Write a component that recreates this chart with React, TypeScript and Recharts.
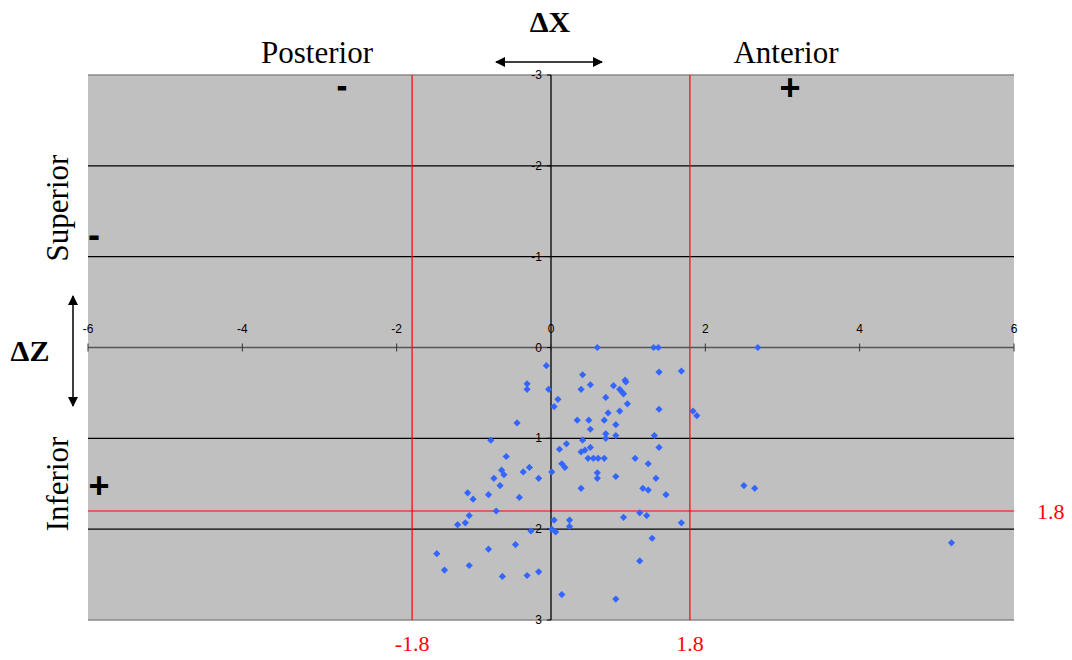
import {
  ScatterChart, Scatter, XAxis, YAxis, ReferenceLine, ReferenceArea, ReferenceDot,
} from 'recharts'

// displacement of each point (paired by index)
const X_VALUES = [
  0.6, 1.33, 1.39, 2.68, -0.06, 0.41, 1.4, 1.69, -0.31, -0.31,
  -0.03, 0.39, 0.51, 0.81, 0.96, 0.97, 0.89, 0.92, 0.94, 0.09,
  0.04, 0.71, 0.99, 1.4, 1.84, 1.89, 0.74, 0.89, -0.44, 0.34,
  0.49, 0.69, 0.51, 0.84, 0.71, 0.71, 0.84, 1.34, -0.78, 0.41,
  0.2, 0.11, 0.39, 0.44, 0.51, 1.4, -0.58, 0.48, 0.55, 0.61,
  0.69, 1.09, 1.26, 0.14, 0.18, -0.28, -0.64, -0.36, 0.01, 0.6,
  -0.61, 0.84, -0.74, -0.16, 0.6, 1.36, -0.66, 0.39, 1.19, 1.26,
  2.5, 2.64, -1.08, -0.81, 1.49, -0.41, -1.01, -0.71, 1.15, -1.06,
  1.24, 0.94, 0.04, 0.24, -1.11, 1.69, -1.21, 0.24, 0.01, -0.26,
  0.06, 1.31, 5.19, -0.46, -0.81, -1.48, 1.15, -1.06, -1.38, -0.16,
  -0.31, -0.63, 0.14, 0.84,
]
const Z_VALUES = [
  0, 0, 0, 0, 0.2, 0.3, 0.27, 0.26, 0.4, 0.46,
  0.46, 0.46, 0.41, 0.42, 0.36, 0.38, 0.46, 0.49, 0.51, 0.57,
  0.65, 0.55, 0.62, 0.68, 0.7, 0.75, 0.72, 0.7, 0.83, 0.8,
  0.8, 0.8, 0.9, 0.85, 0.95, 1.0, 0.97, 0.97, 1.02, 1.02,
  1.06, 1.12, 1.15, 1.13, 1.1, 1.1, 1.2, 1.22, 1.22, 1.22,
  1.22, 1.22, 1.28, 1.28, 1.32, 1.32, 1.35, 1.37, 1.37, 1.38,
  1.4, 1.42, 1.44, 1.44, 1.44, 1.44, 1.52, 1.55, 1.55, 1.57,
  1.52, 1.55, 1.6, 1.62, 1.62, 1.65, 1.67, 1.8, 1.82, 1.85,
  1.85, 1.87, 1.9, 1.9, 1.93, 1.93, 1.95, 1.97, 2.0, 2.02,
  2.03, 2.1, 2.15, 2.17, 2.22, 2.27, 2.35, 2.4, 2.45, 2.47,
  2.51, 2.52, 2.72, 2.77,
]
const X_TICKS = [-6, -4, -2, 0, 2, 4, 6]
const Z_TICKS = [-3, -2, -1, 0, 1, 2, 3]
const LIMIT = 1.8

const points = X_VALUES.map((x, i) => ({ x, y: Z_VALUES[i] }))

const SERIF = '"Liberation Serif", "Times New Roman", serif'
const SANS = '"Liberation Sans", Arial, sans-serif'

const Diamond = (p: any) => {
  const { cx, cy } = p
  const r = 3.6
  return <polygon points={`${cx},${cy - r} ${cx + r},${cy} ${cx},${cy + r} ${cx - r},${cy}`} fill="#3366ff" />
}

const xTick = (t: number) => (p: any) => (
  <g>
    <line x1={p.cx} x2={p.cx} y1={p.cy - 4} y2={p.cy + 4} stroke="#333" strokeWidth={1} />
    <text x={p.cx} y={p.cy - 15} textAnchor="middle" fontSize={12} fontFamily={SANS} fill="#000">{t}</text>
  </g>
)

const yTick = (t: number) => (p: any) => (
  <g>
    <line x1={p.cx - 4} x2={p.cx} y1={p.cy} y2={p.cy} stroke="#000" strokeWidth={1} />
    <text x={p.cx - 9} y={p.cy + 4} textAnchor="end" fontSize={12} fontFamily={SANS} fill="#000">{t}</text>
  </g>
)

const redLabel = { fill: '#ff0000', fontSize: 22, fontFamily: SERIF }

export default function App() {
  return (
    <div style={{ position: 'absolute', left: 0, top: 0, width: 1072, height: 660, background: '#fff' }}>
      <ScatterChart width={1072} height={660} margin={{ top: 75, right: 58, bottom: 40, left: 88 }}>
        <XAxis type="number" dataKey="x" domain={[-6, 6]} ticks={X_TICKS} hide />
        <YAxis type="number" dataKey="y" domain={[-3, 3]} ticks={Z_TICKS} reversed hide />
        <ReferenceArea x1={-6} x2={6} y1={-3} y2={3} fill="#c0c0c0" fillOpacity={1} stroke="none" />
        {Z_TICKS.filter(t => t !== 0).map(t => (
          <ReferenceLine key={`g${t}`} y={t} stroke={Math.abs(t) === 3 ? '#8a8a8a' : '#000'} strokeWidth={1.3} />
        ))}
        <ReferenceLine x={-LIMIT} stroke="#ff0000" strokeWidth={1.2}
          label={{ value: '-1.8', position: 'bottom', offset: 15, ...redLabel }} />
        <ReferenceLine x={LIMIT} stroke="#ff0000" strokeWidth={1.2}
          label={{ value: '1.8', position: 'bottom', offset: 15, ...redLabel }} />
        <ReferenceLine y={LIMIT} stroke="#ff0000" strokeWidth={1.2}
          label={{ value: '1.8', position: 'right', offset: 23, ...redLabel }} />
        <ReferenceLine y={0} stroke="#555" strokeWidth={1.6} />
        <ReferenceLine x={0} stroke="#000" strokeWidth={1.3} />
        {X_TICKS.map(t => (
          <ReferenceDot key={`xt${t}`} x={t} y={0} r={0} shape={xTick(t)} />
        ))}
        {Z_TICKS.map(t => (
          <ReferenceDot key={`yt${t}`} x={0} y={t} r={0} shape={yTick(t)} />
        ))}
        <Scatter data={points} shape={Diamond} isAnimationActive={false} />
      </ScatterChart>
      <svg width={1072} height={660} style={{ position: 'absolute', left: 0, top: 0, pointerEvents: 'none' }}>
        <defs>
          <marker id="ah" viewBox="0 0 10 10" refX="9" refY="5" markerWidth="10" markerHeight="10"
            markerUnits="userSpaceOnUse" orient="auto-start-reverse">
            <path d="M0,0 L10,5 L0,10 z" fill="#000" />
          </marker>
        </defs>
        <text x={550} y={32} textAnchor="middle" fontFamily={SERIF} fontWeight="bold" fontSize={30}>ΔX</text>
        <text x={317} y={63} textAnchor="middle" fontFamily={SERIF} fontSize={31}>Posterior</text>
        <text x={786} y={63} textAnchor="middle" fontFamily={SERIF} fontSize={31}>Anterior</text>
        <line x1={496} x2={602} y1={62} y2={62} stroke="#000" strokeWidth={1.5}
          markerStart="url(#ah)" markerEnd="url(#ah)" />
        <text x={342} y={96} textAnchor="middle" fontFamily={SANS} fontWeight="bold" fontSize={28}
          stroke="#000" strokeWidth={1.2}>-</text>
        <text x={790} y={100} textAnchor="middle" fontFamily={SANS} fontWeight="bold" fontSize={36}>+</text>

        <text transform="translate(68,208) rotate(-90)" textAnchor="middle" fontFamily={SERIF} fontSize={31}>Superior</text>
        <text transform="translate(68,484) rotate(-90)" textAnchor="middle" fontFamily={SERIF} fontSize={31}>Inferior</text>
        <text x={94} y={247} textAnchor="middle" fontFamily={SANS} fontWeight="bold" fontSize={36}>-</text>
        <text x={99} y={498} textAnchor="middle" fontFamily={SANS} fontWeight="bold" fontSize={36}>+</text>
        <text x={30} y={361} textAnchor="middle" fontFamily={SERIF} fontWeight="bold" fontSize={30}>ΔZ</text>
        <line x1={73} x2={73} y1={296} y2={406} stroke="#000" strokeWidth={1.5}
          markerStart="url(#ah)" markerEnd="url(#ah)" />
      </svg>
    </div>
  )
}
